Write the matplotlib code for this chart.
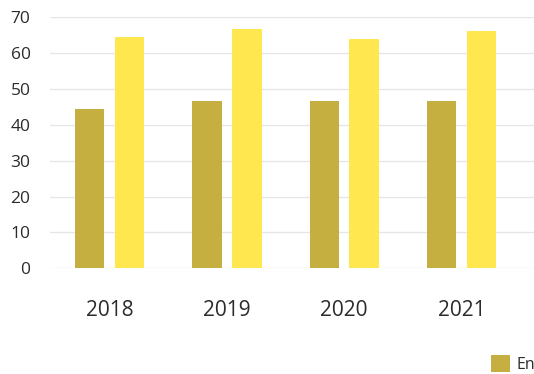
"""Grouped bar chart, 2018-2021."""

import matplotlib

matplotlib.use("Agg")
import matplotlib.pyplot as plt
import numpy as np

YEARS = ["2018", "2019", "2020", "2021"]
SERIES_A = [44.5, 46.7, 46.7, 46.7]
SERIES_B = [64.4, 66.7, 63.9, 66.1]
LEGEND_LABEL = "En"
Y_TICKS = [0, 10, 20, 30, 40, 50, 60, 70]

COLOR_A = "#C4AF40"
COLOR_B = "#FFE74F"
TEXT_COLOR = "#2b2b2b"

plt.rcParams["font.family"] = ["Open Sans", "DejaVu Sans"]

fig = plt.figure(figsize=(5.34, 3.74), dpi=100)
ax = fig.add_axes([50 / 534, 0.2826, 1 - 50 / 534, 0.6711])

x = np.arange(len(YEARS))
width = 0.25
offset = 0.17
bars_a = ax.bar(x - offset, SERIES_A, width, color=COLOR_A, zorder=2)
ax.bar(x + offset, SERIES_B, width, color=COLOR_B, zorder=2)

ax.set_xlim(-0.51, 3.62)
ax.set_ylim(0, 70)
ax.set_yticks(Y_TICKS)
ax.set_xticks(x)
ax.set_xticklabels(YEARS)
ax.grid(axis="y", color="#e6e6e6", linewidth=1, zorder=0)
for spine in ax.spines.values():
    spine.set_visible(False)
ax.tick_params(axis="y", length=0, pad=14, labelsize=12.5, labelcolor=TEXT_COLOR)
ax.tick_params(axis="x", length=0, pad=23, labelsize=15, labelcolor=TEXT_COLOR)

# only the first legend entry falls inside the picture
fig.legend(
    [bars_a],
    [LEGEND_LABEL],
    loc="center left",
    bbox_to_anchor=(491 / 534, 1 - 364 / 374),
    borderaxespad=0,
    borderpad=0,
    frameon=False,
    fontsize=11.5,
    handlelength=1.2,
    handleheight=1.2,
    handletextpad=0.4,
    labelcolor=TEXT_COLOR,
)

fig.savefig("out.png", dpi=100)
